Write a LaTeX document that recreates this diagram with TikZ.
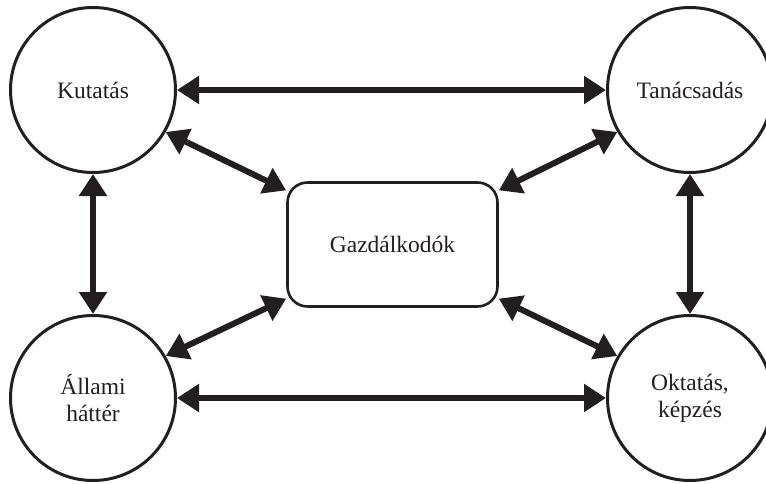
\documentclass[tikz,border=0pt]{standalone}
\usepackage{fontspec}
\setmainfont{Liberation Serif}
\usetikzlibrary{arrows.meta}
\definecolor{ink}{RGB}{35,31,32}
\begin{document}
\begin{tikzpicture}[x=1pt,y=-1pt,
  actor/.style={circle,draw=ink,line width=3pt,minimum size=165pt,inner sep=0pt,
    align=center,text=ink,font=\fontsize{23.5}{27}\selectfont},
  hub/.style={rectangle,rounded corners=20pt,draw=ink,line width=2.6pt,
    minimum width=210pt,minimum height=124pt,text=ink,font=\fontsize{23.5}{27}\selectfont},
  link/.style={line width=6pt,draw=ink,
    {Triangle[length=22pt,width=27pt]}-{Triangle[length=22pt,width=27pt]}}]
\clip (0,0) rectangle (766,484);
\fill[white] (0,0) rectangle (766,484);

\node[actor] (K) at (93,90) {Kutatás};
\node[actor] (T) at (690,90) {Tanácsadás};
\node[actor] (A) at (93,398) {Állami\\háttér};
\node[actor] (O) at (690,398) {Oktatás,\\képzés};
\node[hub] (G) at (392.5,244.5) {Gazdálkodók};

\draw[link] (K) -- (T);
\draw[link] (A) -- (O);
\draw[link] (K) -- (A);
\draw[link] (T) -- (O);
\draw[link] (K.-30) -- (G.153);
\draw[link] (T.210) -- (G.27);
\draw[link] (A.30) -- (G.207);
\draw[link] (O.150) -- (G.-27);
\end{tikzpicture}
\end{document}
